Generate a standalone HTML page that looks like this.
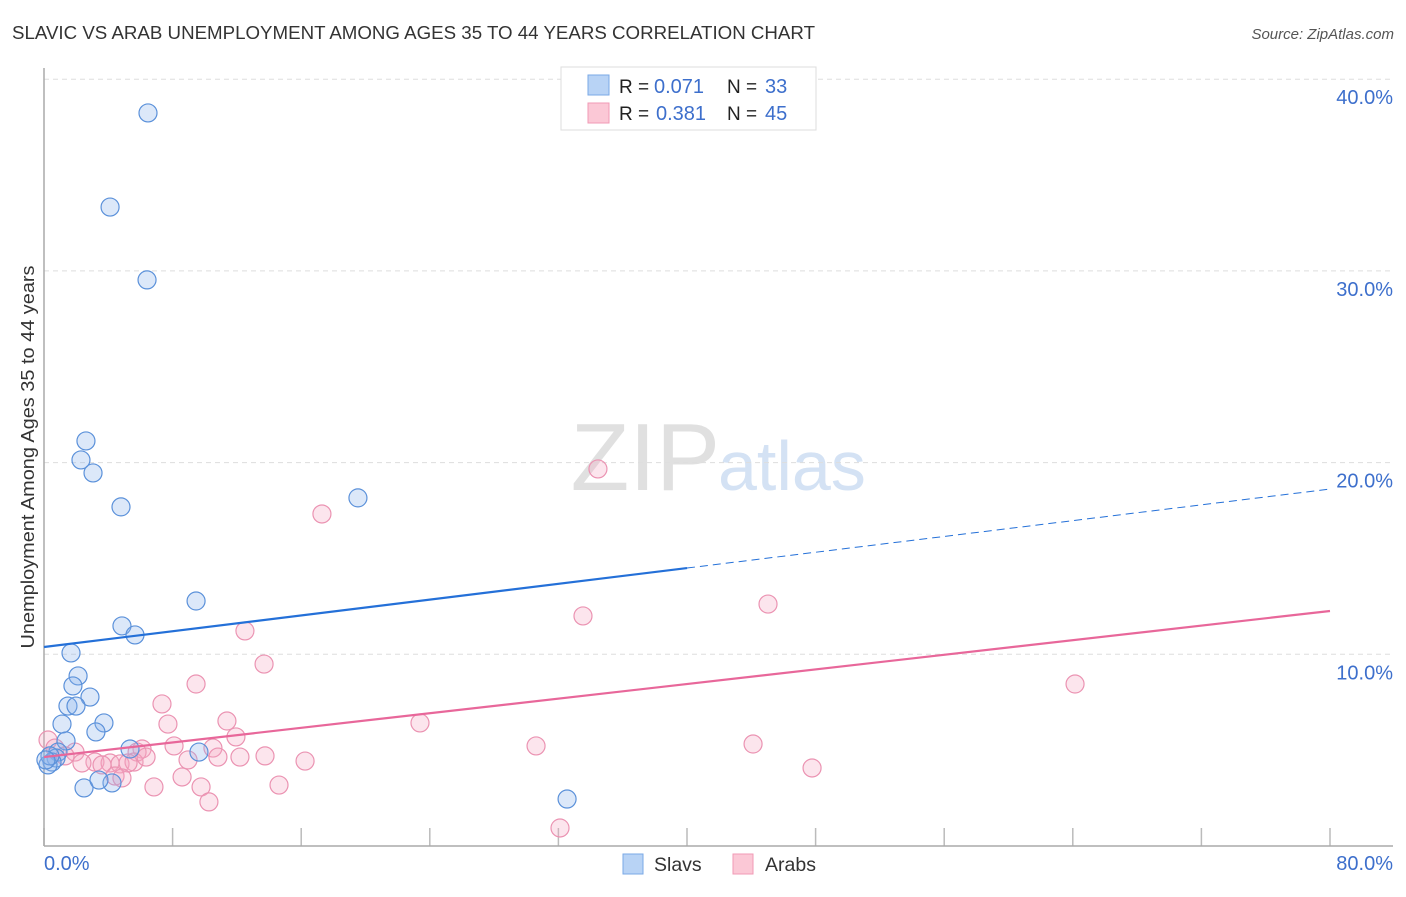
<!DOCTYPE html>
<html><head><meta charset="utf-8"><style>
body{margin:0;background:#fff;font-family:"Liberation Sans",sans-serif;}
svg text{font-family:"Liberation Sans",sans-serif;}
</style></head><body>
<svg id="c" width="1406" height="892" xmlns="http://www.w3.org/2000/svg">
<text x="12" y="39" font-size="18" fill="#333" textLength="803" lengthAdjust="spacingAndGlyphs">SLAVIC VS ARAB UNEMPLOYMENT AMONG AGES 35 TO 44 YEARS CORRELATION CHART</text>
<text x="1394" y="39" font-size="15" fill="#555" font-style="italic" text-anchor="end">Source: ZipAtlas.com</text>
<text x="720" y="490" font-size="96" fill="#e0e0e0" text-anchor="end" font-family="Liberation Serif">ZIP</text>
<text x="718" y="490" font-size="70" fill="#d4e2f4">atlas</text>
<g id="grid"></g>
<line x1="44" y1="68" x2="44" y2="846" stroke="#aaa" stroke-width="1.5"/>
<line x1="44" y1="846" x2="1393" y2="846" stroke="#aaa" stroke-width="1.5"/>
<text transform="translate(34,457) rotate(-90)" font-size="18" fill="#333" text-anchor="middle" textLength="383" lengthAdjust="spacingAndGlyphs">Unemployment Among Ages 35 to 44 years</text>
<text x="44" y="870" font-size="20" fill="#3d6fcc">0.0%</text>
<text x="1393" y="870" font-size="20" fill="#3d6fcc" text-anchor="end">80.0%</text>
<g id="pts"></g>
<g id="lines"></g>
<g>
<rect x="561" y="67" width="255" height="63" fill="#fff" stroke="#ddd"/>
<rect x="588" y="75" width="21" height="20" fill="#b8d3f5" stroke="#7aa8e6"/>
<rect x="588" y="103" width="21" height="20" fill="#fbc8d6" stroke="#f09ab5"/>
<text x="619" y="93" font-size="19" fill="#222">R =</text>
<text x="654" y="93" font-size="20" fill="#3d6fcc">0.071</text>
<text x="727" y="93" font-size="19" fill="#222">N =</text>
<text x="765" y="93" font-size="20" fill="#3d6fcc">33</text>
<text x="619" y="120" font-size="19" fill="#222">R =</text>
<text x="656" y="120" font-size="20" fill="#3d6fcc">0.381</text>
<text x="727" y="120" font-size="19" fill="#222">N =</text>
<text x="765" y="120" font-size="20" fill="#3d6fcc">45</text>
</g>
<g>
<rect x="623" y="854" width="20" height="20" fill="#b8d3f5" stroke="#7aa8e6"/>
<text x="654" y="871" font-size="19.5" fill="#333">Slavs</text>
<rect x="733" y="854" width="20" height="20" fill="#fbc8d6" stroke="#f09ab5"/>
<text x="765" y="871" font-size="19.5" fill="#333">Arabs</text>
</g>
</svg>
<script>
const yTicks=[10,20,30,40];
const xTicks=[0,8,16,24,32,40,48,56,64,72,80];
const slavsX=[6.47,4.11,6.41,2.61,2.30,3.05,4.79,19.53,9.46,4.85,5.66,1.68,2.12,1.80,2.86,1.49,1.99,3.73,1.12,3.23,1.37,5.35,9.64,0.87,0.75,0.50,0.25,2.49,4.23,3.42,32.54,0.37,0.12];
const slavsY=[38.24,33.33,29.53,21.13,20.14,19.46,17.69,18.16,12.78,11.48,11.01,10.07,8.87,8.35,7.77,7.30,7.30,6.42,6.36,5.95,5.48,5.06,4.90,4.90,4.59,4.38,4.23,3.03,3.29,3.44,2.45,4.70,4.49];
const arabsX=[34.46,17.29,45.04,33.53,12.50,13.69,64.14,9.46,7.34,7.71,11.38,23.39,11.94,8.09,30.61,44.11,6.10,10.51,5.79,0.25,0.68,1.93,1.31,3.17,4.11,4.73,3.61,5.60,6.35,5.23,8.96,10.82,12.19,13.75,16.24,47.78,2.36,4.42,4.85,8.59,6.84,9.77,14.62,10.26,32.10];
const arabsY=[19.67,17.32,12.62,12.00,11.22,9.49,8.45,8.45,7.41,6.36,6.52,6.42,5.69,5.22,5.22,5.32,5.06,5.11,4.90,5.53,5.11,4.90,4.70,4.38,4.33,4.28,4.23,4.38,4.64,4.33,4.49,4.64,4.64,4.70,4.43,4.07,4.33,3.65,3.55,3.60,3.08,3.08,3.18,2.30,0.94];
const slavsTrend=[10.38,18.62];
const arabsTrend=[4.64,12.26];
const NS='http://www.w3.org/2000/svg';
const sx=v=>44+v/80*1286;
const sy=v=>846-v*19.17;
function mk(t,a,p){const e=document.createElementNS(NS,t);for(const k in a)e.setAttribute(k,a[k]);p.appendChild(e);return e;}
const grid=document.getElementById('grid');
yTicks.forEach(t=>{
 const l=mk('line',{x1:44,x2:1393,y1:sy(t),y2:sy(t),stroke:'#ddd','stroke-dasharray':'5,4'},grid);
 
 
 const tx=mk('text',{x:1393,y:sy(t)+25,'font-size':20,fill:'#3d6fcc','text-anchor':'end'},grid);
 tx.textContent=t.toFixed(1)+'%';
 
 
});
xTicks.forEach(t=>{
 const l=mk('line',{x1:sx(t),x2:sx(t),y1:828,y2:846,stroke:'#bbb','stroke-width':1.5},grid);
 
 
});
const pts=document.getElementById('pts');
arabsX.forEach((x,i)=>{
 const c=mk('circle',{cx:sx(x),cy:sy(arabsY[i]),r:9,fill:'rgba(246,170,196,0.3)',stroke:'#eb93b2','stroke-width':1.2},pts);
 
 
});
slavsX.forEach((x,i)=>{
 const c=mk('circle',{cx:sx(x),cy:sy(slavsY[i]),r:9,fill:'rgba(140,180,235,0.3)',stroke:'#5b91da','stroke-width':1.2},pts);
 
 
});
const lines=document.getElementById('lines');
const at=(tr,x)=>tr[0]+(tr[1]-tr[0])*x/80;
let l1=mk('line',{x1:sx(0),y1:sy(at(slavsTrend,0)),x2:sx(40),y2:sy(at(slavsTrend,40)),stroke:'#2470d8','stroke-width':2.2},lines);


let l2=mk('line',{x1:sx(40),y1:sy(at(slavsTrend,40)),x2:sx(80),y2:sy(at(slavsTrend,80)),stroke:'#2470d8','stroke-width':1,'stroke-dasharray':'8,5'},lines);


let l3=mk('line',{x1:sx(0),y1:sy(at(arabsTrend,0)),x2:sx(80),y2:sy(at(arabsTrend,80)),stroke:'#e8679a','stroke-width':2.2},lines);


</script>
</body></html>
